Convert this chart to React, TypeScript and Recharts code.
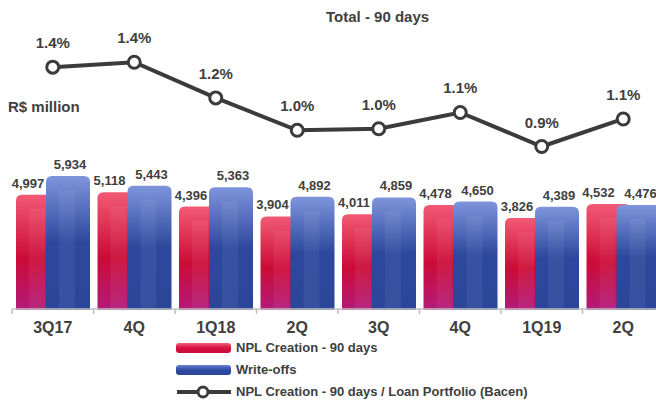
import { Bar, ComposedChart, LabelList, Line, XAxis, YAxis } from "recharts";

const quarters = ["3Q17", "4Q", "1Q18", "2Q", "3Q", "4Q", "1Q19", "2Q"];
const nplCreation = [4997, 5118, 4396, 3904, 4011, 4478, 3826, 4532];
const writeOffs = [5934, 5443, 5363, 4892, 4859, 4650, 4389, 4476];
const nplRatio = [1.39, 1.42, 1.2, 1.0, 1.01, 1.11, 0.9, 1.07];

const data = quarters.map((q, i) => ({
  q,
  npl: nplCreation[i],
  wo: writeOffs[i],
  ratio: nplRatio[i],
}));

const FONT = '"Liberation Sans", Arial, sans-serif';
const TEXT = "#404040";
const LINE = "#3b3b3b";
const PLOT_BOTTOM = 309;

function GlossyBar(props: any) {
  const { x, y, width, fill } = props;
  const bottom = PLOT_BOTTOM + 1;
  const r = 6;
  const d = `M${x},${bottom} L${x},${y + r} Q${x},${y} ${x + r},${y} L${x + width - r},${y} Q${x + width},${y} ${x + width},${y + r} L${x + width},${bottom} Z`;
  return (
    <g>
      <path d={d} fill={fill} />
      <rect x={x + 13} y={y + 14} width={16} height={Math.max(0, bottom - y - 16)} fill="#fff" opacity={0.06} />
    </g>
  );
}

const fmt = (v: number) => v.toLocaleString("en-US");

const barLabel = (dx: number) => (p: any) => (
  <text
    x={Number(p.x) + dx}
    y={Number(p.y) - 7}
    textAnchor="middle"
    fontFamily={FONT}
    fontWeight="bold"
    fontSize={13}
    fill={TEXT}
  >
    {fmt(Number(p.value))}
  </text>
);

function QuarterTick(props: any) {
  const { x, y, payload } = props;
  const half = payload?.offset ? payload.offset : 40.75;
  return (
    <g>
      <line x1={x - half} x2={x - half} y1={y} y2={y + 5} stroke="#bdbdbd" strokeWidth={1.5} />
      <text x={x} y={y + 24} textAnchor="middle" fontFamily={FONT} fontWeight="bold" fontSize={16} fill={TEXT}>
        {payload.value}
      </text>
    </g>
  );
}

function LegendRow({ kind, label }: { kind: "red" | "blue" | "line"; label: string }) {
  return (
    <div style={{ display: "flex", alignItems: "center", height: 22 }}>
      <svg width={60} height={22} style={{ display: "block" }}>
        {kind === "line" ? (
          <g>
            <line x1={1} x2={55} y1={11} y2={11} stroke={LINE} strokeWidth={4} />
            <circle cx={27} cy={11} r={5} fill="#fff" stroke={LINE} strokeWidth={3} />
          </g>
        ) : (
          <rect x={0} y={6} width={55} height={10} rx={3} fill={kind === "red" ? "url(#legRed)" : "url(#legBlue)"} />
        )}
      </svg>
      <span style={{ fontFamily: FONT, fontWeight: "bold", fontSize: 13, color: TEXT, lineHeight: "22px" }}>{label}</span>
    </div>
  );
}

export default function App() {
  return (
    <div style={{ position: "absolute", left: 0, top: 0, width: 656, height: 400, overflow: "hidden", background: "#fff" }}>
      <svg width={0} height={0} style={{ position: "absolute" }}>
        <defs>
          <linearGradient id="legRed" x1="0" y1="0" x2="0" y2="1">
            <stop offset="0%" stopColor="#f0607a" />
            <stop offset="50%" stopColor="#d90f40" />
            <stop offset="100%" stopColor="#c80c3a" />
          </linearGradient>
          <linearGradient id="legBlue" x1="0" y1="0" x2="0" y2="1">
            <stop offset="0%" stopColor="#6a84d2" />
            <stop offset="50%" stopColor="#2d4aa0" />
            <stop offset="100%" stopColor="#2a4699" />
          </linearGradient>
        </defs>
      </svg>
      <div
        style={{
          position: "absolute",
          left: 326,
          top: 8,
          fontFamily: FONT,
          fontWeight: "bold",
          fontSize: 15,
          color: TEXT,
          whiteSpace: "nowrap",
        }}
      >
        Total - 90 days
      </div>
      <div
        style={{
          position: "absolute",
          left: 8,
          top: 98,
          fontFamily: FONT,
          fontWeight: "bold",
          fontSize: 15,
          color: TEXT,
          whiteSpace: "nowrap",
        }}
      >
        R$ million
      </div>
      <div style={{ position: "absolute", left: 0, top: 0 }}>
        <ComposedChart
          width={680}
          height={400}
          data={data}
          margin={{ top: 20, right: 16, left: 12, bottom: 61 }}
          barGap={-14}
        >
          <defs>
            <linearGradient id="redGrad" x1="0" y1="0" x2="0" y2="1">
              <stop offset="0%" stopColor="#f25a74" />
              <stop offset="55%" stopColor="#cc0b36" />
              <stop offset="100%" stopColor="#b31a7a" />
            </linearGradient>
            <linearGradient id="blueGrad" x1="0" y1="0" x2="0" y2="1">
              <stop offset="0%" stopColor="#7e95dc" />
              <stop offset="50%" stopColor="#2c479c" />
              <stop offset="100%" stopColor="#2b4699" />
            </linearGradient>
          </defs>
          <XAxis
            dataKey="q"
            height={30}
            tickSize={0}
            tickMargin={0}
            tickLine={false}
            interval={0}
            axisLine={{ stroke: "#c4c4c4", strokeWidth: 1.5 }}
            tick={<QuarterTick />}
          />
          <YAxis yAxisId="bar" hide domain={[-749, 13773]} />
          <YAxis yAxisId="line" hide domain={[-0.103, 1.681]} />
          <Bar
            yAxisId="bar"
            dataKey="npl"
            name="NPL Creation - 90 days"
            barSize={44}
            fill="url(#redGrad)"
            shape={<GlossyBar />}
            isAnimationActive={false}
          >
            <LabelList dataKey="npl" content={barLabel(12)} />
          </Bar>
          <Bar
            yAxisId="bar"
            dataKey="wo"
            name="Write-offs"
            barSize={44}
            fill="url(#blueGrad)"
            shape={<GlossyBar />}
            isAnimationActive={false}
          >
            <LabelList dataKey="wo" content={barLabel(24)} />
          </Bar>
          <Line
            yAxisId="line"
            dataKey="ratio"
            name="NPL Creation - 90 days / Loan Portfolio (Bacen)"
            stroke={LINE}
            strokeWidth={4}
            dot={{ r: 6, fill: "#fff", stroke: LINE, strokeWidth: 3 }}
            isAnimationActive={false}
          >
            <LabelList
              dataKey="ratio"
              position="top"
              offset={19}
              formatter={(v: any) => `${Number(v).toFixed(1)}%`}
              style={{ fontFamily: FONT, fontWeight: "bold", fontSize: 15, fill: TEXT }}
            />
          </Line>
        </ComposedChart>
      </div>
      <div style={{ position: "absolute", left: 176, top: 337 }}>
        <LegendRow kind="red" label="NPL Creation - 90 days" />
        <LegendRow kind="blue" label="Write-offs" />
        <LegendRow kind="line" label="NPL Creation - 90 days / Loan Portfolio (Bacen)" />
      </div>
    </div>
  );
}
